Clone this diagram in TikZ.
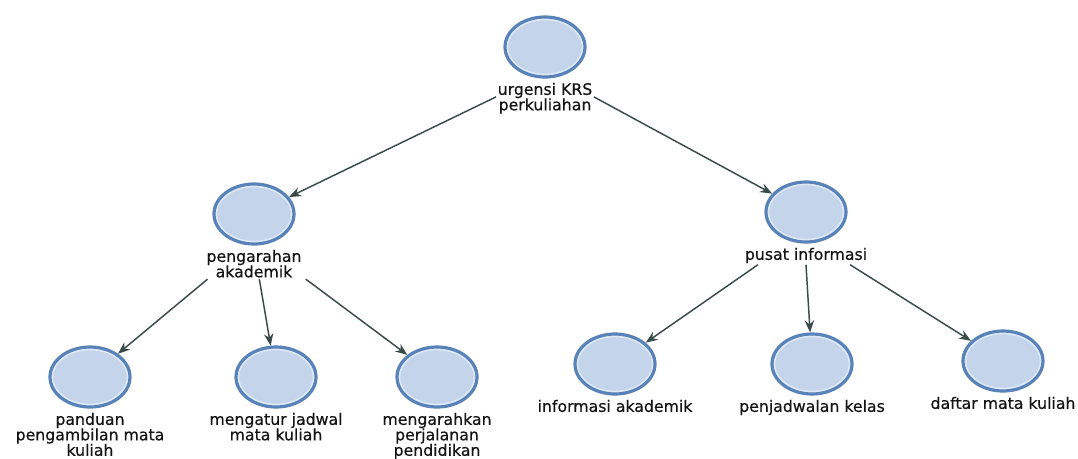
\documentclass[tikz,border=0pt]{standalone}
\usepackage{fontspec}
\setmainfont{DejaVu Sans}[UprightFeatures={FakeBold=0.4}]
\usetikzlibrary{arrows.meta,shapes.geometric}
\definecolor{ringedge}{RGB}{88,130,184}
\definecolor{ringfill}{RGB}{196,212,234}
\definecolor{ringglow}{RGB}{222,233,247}
\definecolor{linkcol}{RGB}{58,76,74}
\definecolor{labelcol}{RGB}{20,20,20}
\begin{document}
\begin{tikzpicture}[x=0.75pt,y=-0.75pt,
  topic/.style={ellipse, draw=ringedge, fill=ringfill, line width=2.4pt,
    minimum width=60pt, minimum height=45pt, inner sep=0pt,
    path picture={\draw[ringglow,line width=5pt]
      (path picture bounding box.center) ellipse [x radius=30pt, y radius=22.5pt];}},
  caption/.style={anchor=north, align=center, inner sep=1pt, text=labelcol,
    font=\fontsize{11.8pt}{11.6pt}\selectfont},
  link/.style={draw=linkcol, line width=1.1pt, -{Stealth[length=9pt,width=7pt]}}]
\useasboundingbox (0,0) rectangle (1078,458);
\fill[white] (0,0) rectangle (1078,458);

% topics
\node[topic] (root)    at (545,47)  {};
\node[topic] (akad)    at (254,214) {};
\node[topic] (pusat)   at (806,212) {};
\node[topic] (panduan) at (90,377)  {};
\node[topic] (jadwal)  at (276,377) {};
\node[topic] (arah)    at (437,377) {};
\node[topic] (info)    at (615,364) {};
\node[topic] (kelas)   at (812,364) {};
\node[topic] (daftar)  at (1003,361) {};

% captions under each topic
\node[caption] (rootcap)    at ([yshift=-2pt]root.south)    {urgensi KRS\\perkuliahan};
\node[caption] (akadcap)    at ([yshift=-2pt]akad.south)    {pengarahan\\akademik};
\node[caption] (pusatcap)   at ([yshift=-2pt]pusat.south)   {pusat informasi};
\node[caption] (panduancap) at ([yshift=-2pt]panduan.south) {panduan\\pengambilan mata\\kuliah};
\node[caption] (jadwalcap)  at ([yshift=-2pt]jadwal.south)  {mengatur jadwal\\mata kuliah};
\node[caption] (arahcap)    at ([yshift=-2pt]arah.south)    {mengarahkan\\perjalanan\\pendidikan};
\node[caption] (infocap)    at ([yshift=-2pt]info.south)    {informasi akademik};
\node[caption] (kelascap)   at ([yshift=-2pt]kelas.south)   {penjadwalan kelas};
\node[caption] (daftarcap)  at ([yshift=-2pt]daftar.south)  {daftar mata kuliah};

% links
\draw[link] ([yshift=1pt]rootcap.west) -- (akad);
\draw[link] ([yshift=1pt]rootcap.east) -- (pusat);
\draw[link] ([xshift=2pt]akadcap.south west) -- (panduan);
\draw[link] ([xshift=4pt]akadcap.south) -- (jadwal);
\draw[link] ([xshift=2pt]akadcap.south east) -- (arah);
\draw[link] ([xshift=11pt]pusatcap.south west) -- (info);
\draw[link] (pusatcap.south) -- (kelas);
\draw[link] ([xshift=-14pt]pusatcap.south east) -- (daftar);
\end{tikzpicture}
\end{document}
